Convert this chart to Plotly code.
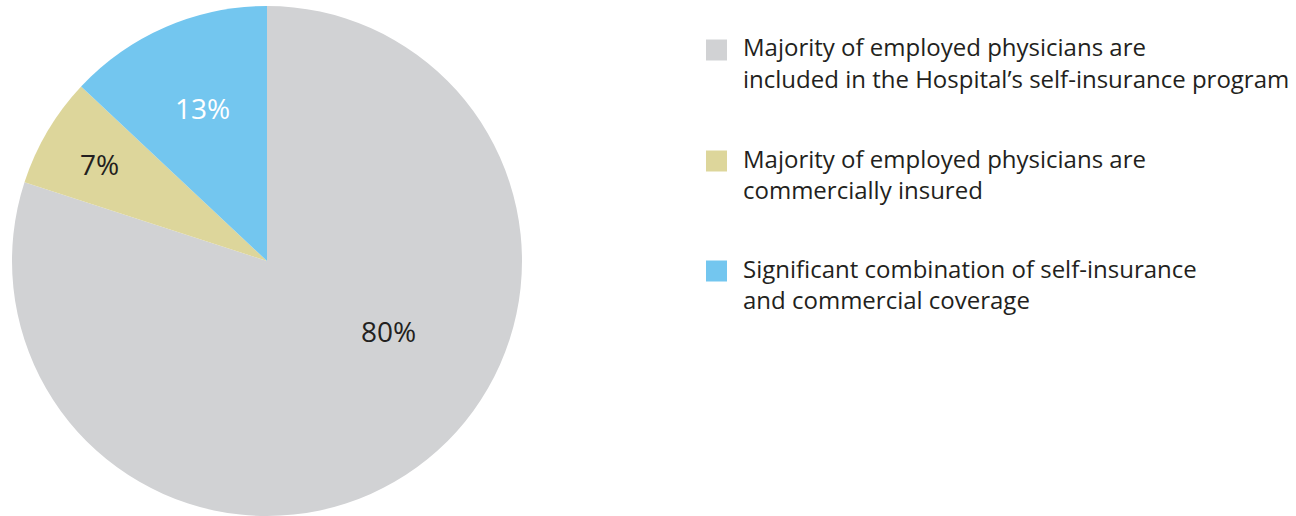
import plotly.graph_objects as go

legend_lines = [
    ["Majority of employed physicians are", "included in the Hospital’s self-insurance program"],
    ["Majority of employed physicians are", "commercially insured"],
    ["Significant combination of self-insurance", "and commercial coverage"],
]
labels = ["<br>".join(l) for l in legend_lines]
values = [80, 7, 13]
colors = ["#d1d2d4", "#ddd69b", "#73c6ef"]
text_colors = ["#231f20", "#231f20", "#ffffff"]
pct_text = ["80%", "7%", "13%"]

W, H = 1296, 516
FONT = "Open Sans"

# pie geometry (pixels)
cx, cy, R = 267, 261, 255
# label placement inside each slice: (angle clockwise from 12 o'clock in degrees, radius fraction)
label_place = [(120, 0.55), (300, 0.76), (337, 0.65)]

fig = go.Figure()
fig.add_trace(go.Pie(
    labels=labels,
    values=values,
    sort=False,
    direction="clockwise",
    rotation=0,
    marker=dict(colors=colors, line=dict(width=0)),
    textinfo="none",
    hoverinfo="label+percent",
    domain=dict(x=[(cx - R) / W, (cx + R) / W], y=[1 - (cy + R) / H, 1 - (cy - R) / H]),
    showlegend=False,
))

import math
annotations = []
for i, (ang, frac) in enumerate(label_place):
    a = math.radians(ang)
    px = cx + frac * R * math.sin(a)
    py = cy - frac * R * math.cos(a)
    annotations.append(dict(
        text=pct_text[i], xref="paper", yref="paper",
        x=px / W, y=1 - py / H, xanchor="center", yanchor="middle",
        showarrow=False,
        font=dict(family=FONT, size=28, color=text_colors[i]),
    ))

# Manual legend built from the label list
sq = 21
x_sq = 706
x_txt = 741
centers = [47, 158, 268]
line_gap = 31
shapes = []
for i, lines in enumerate(legend_lines):
    c = centers[i]
    shapes.append(dict(
        type="rect", xref="paper", yref="paper",
        x0=x_sq / W, x1=(x_sq + sq) / W,
        y0=1 - (c + 3 + sq / 2) / H, y1=1 - (c + 3 - sq / 2) / H,
        fillcolor=colors[i], line=dict(width=0),
    ))
    for j, line in enumerate(lines):
        annotations.append(dict(
            text=line, xref="paper", yref="paper",
            x=x_txt / W, y=1 - (c + j * line_gap) / H,
            xanchor="left", yanchor="middle", showarrow=False,
            align="left",
            font=dict(family=FONT, size=24, color="#231f20"),
        ))

fig.update_layout(
    width=W, height=H,
    margin=dict(l=0, r=0, t=0, b=0),
    paper_bgcolor="white",
    plot_bgcolor="white",
    shapes=shapes,
    annotations=annotations,
)

fig.write_html("out.html")
